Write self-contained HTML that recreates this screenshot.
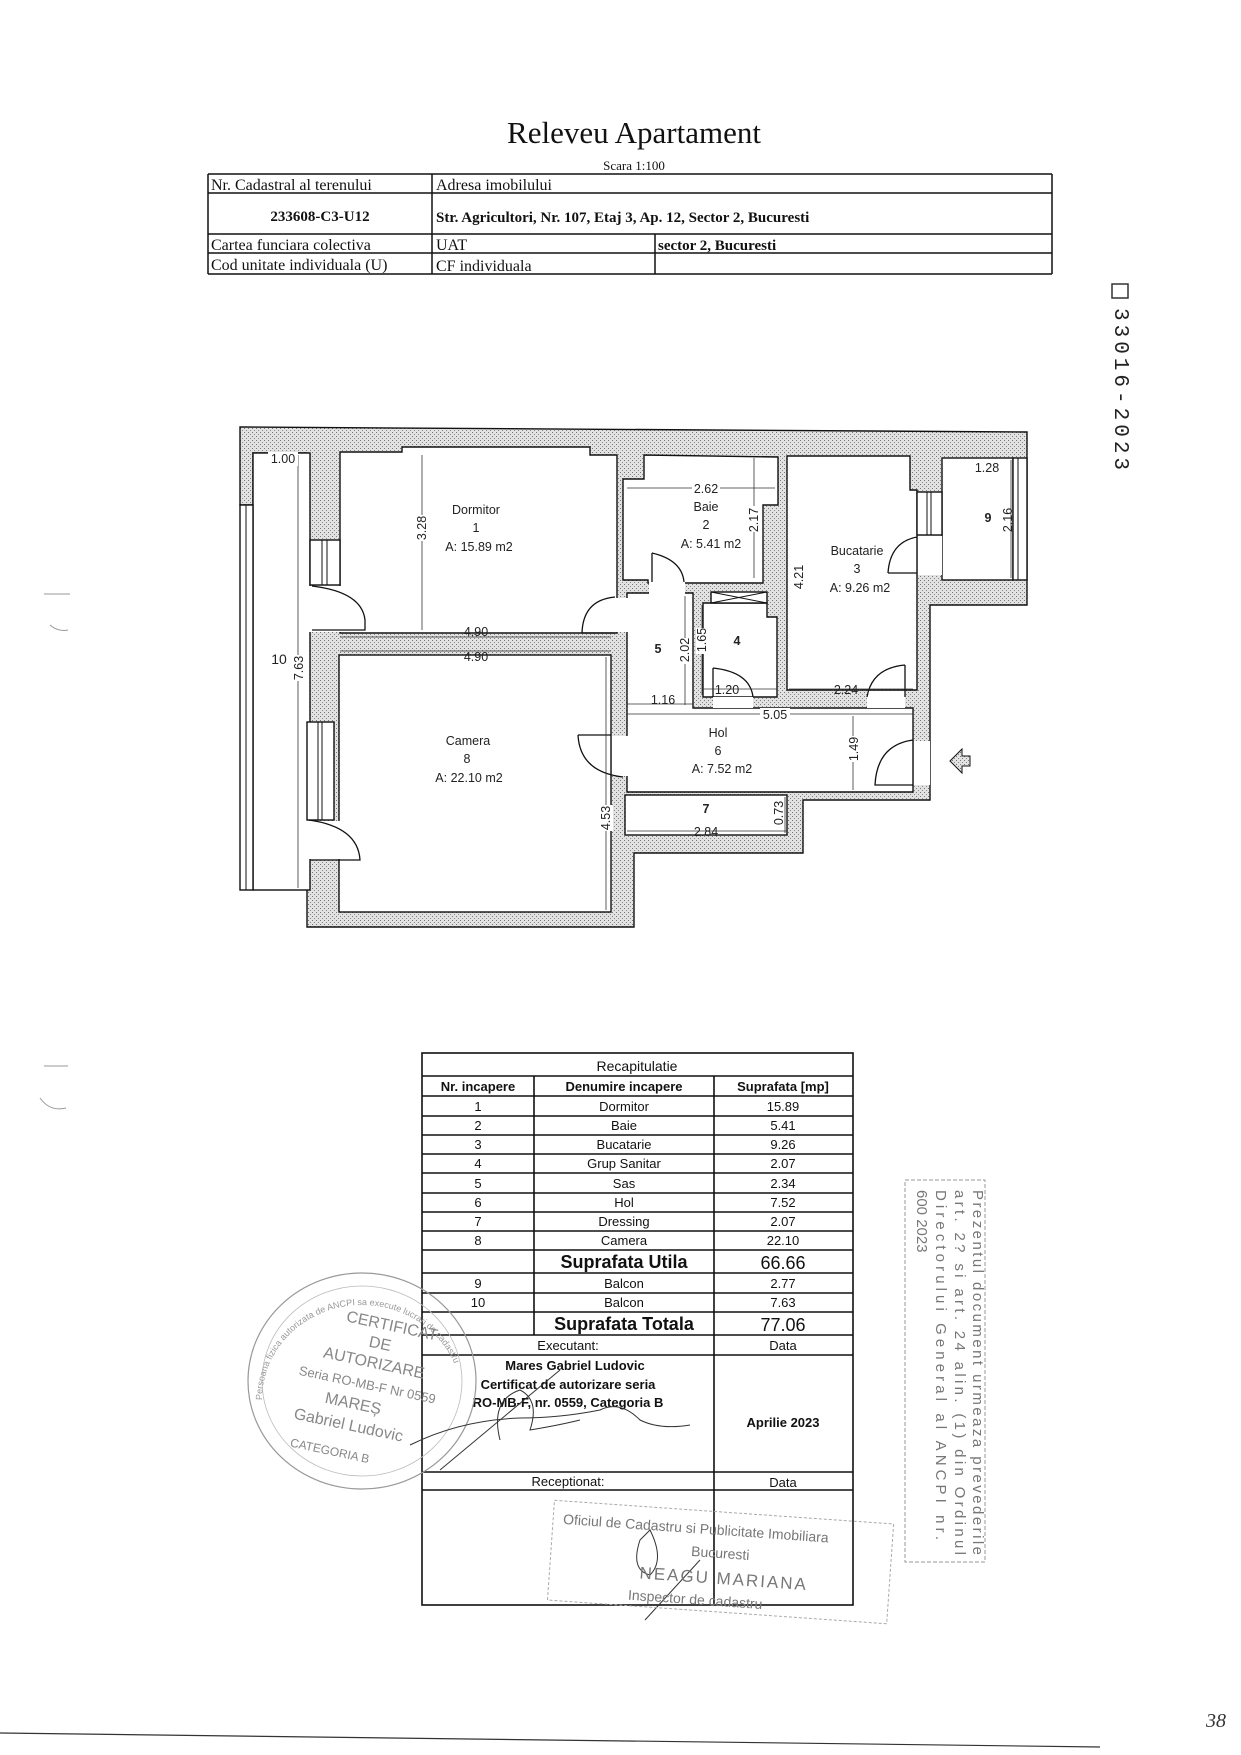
<!DOCTYPE html>
<html><head><meta charset="utf-8"><style>
html,body{margin:0;padding:0;background:#fff;}
svg{display:block;}
</style></head><body>
<svg width="1241" height="1755" viewBox="0 0 1241 1755" xmlns="http://www.w3.org/2000/svg">
<defs>
<pattern id="h" width="4" height="4" patternUnits="userSpaceOnUse">
<rect width="4" height="4" fill="#e2e2e2"/><rect x="0" y="0" width="1" height="1" fill="#777"/><rect x="2" y="2" width="1" height="1" fill="#888"/>
</pattern>
<path id="ring" d="M262,1400 A100,95 0 1 1 462,1400"/>
</defs>
<!-- Title -->
<text x="634" y="143" font-family="Liberation Serif, serif" font-size="31" text-anchor="middle" fill="#111">Releveu Apartament</text>
<text x="634" y="170" font-family="Liberation Serif, serif" font-size="13" text-anchor="middle" fill="#111">Scara 1:100</text>
<!-- Header table -->
<g stroke="#111" stroke-width="1.5" fill="none">
<line x1="208" y1="174" x2="1052" y2="174"/>
<line x1="208" y1="193" x2="1052" y2="193"/>
<line x1="208" y1="234" x2="1052" y2="234"/>
<line x1="208" y1="253" x2="1052" y2="253"/>
<line x1="208" y1="274" x2="1052" y2="274"/>
<line x1="208" y1="174" x2="208" y2="274"/>
<line x1="432" y1="174" x2="432" y2="274"/>
<line x1="1052" y1="174" x2="1052" y2="274"/>
<line x1="655" y1="234" x2="655" y2="274"/>
</g>
<g font-family="Liberation Serif, serif" font-size="16" fill="#111">
<text x="211" y="190">Nr. Cadastral al terenului</text>
<text x="436" y="190">Adresa imobilului</text>
<text x="320" y="221" text-anchor="middle" font-weight="bold" font-size="15">233608-C3-U12</text>
<text x="436" y="222" font-weight="bold" font-size="15">Str. Agricultori, Nr. 107, Etaj 3, Ap. 12, Sector 2, Bucuresti</text>
<text x="211" y="250">Cartea funciara colectiva</text>
<text x="436" y="250">UAT</text>
<text x="658" y="250" font-weight="bold" font-size="15">sector 2, Bucuresti</text>
<text x="211" y="270">Cod unitate individuala (U)</text>
<text x="436" y="271">CF individuala</text>
</g>
<!-- vertical registry number -->
<rect x="1112" y="284" width="16" height="14" fill="none" stroke="#333" stroke-width="1.5"/>
<text x="1115" y="308" font-family="Liberation Mono, monospace" font-size="21" fill="#222" transform="rotate(90 1115 308)" letter-spacing="4">33016-2023</text>

<!-- FLOOR PLAN -->
<g stroke="#111" stroke-width="1.4">
<polygon fill="url(#h)" points="240,427 1027,432 1027,605 930,605 930,800 803,800 803,853 634,853 634,927 307,927 307,453 253,453 253,505 240,505"/>
<rect x="253" y="453" width="57" height="437" fill="#fff"/>
<rect x="240" y="505" width="13" height="385" fill="#fff"/>
<line x1="246" y1="505" x2="246" y2="890" stroke-width="1"/>
<polygon fill="#fff" points="340,452 402,452 402,447 590,447 590,455 617,455 617,633 340,633"/>
<rect x="339" y="655" width="272" height="257" fill="#fff"/>
<polygon fill="#fff" points="627,593 693,593 693,708 913,708 913,792 627,792"/>
<polygon fill="#fff" points="623,479 644,479 644,455 778,457 778,505 763,505 763,583 648,583 648,580 623,580"/>
<polygon fill="#fff" points="703,603 767,603 767,617 777,617 777,697 703,697"/>
<polygon fill="#fff" points="787,456 910,456 910,490 917,490 917,690 787,690"/>
<rect x="942" y="458" width="71" height="122" fill="#fff"/>
<rect x="1013" y="458" width="14" height="122" fill="#fff"/>
<line x1="1018" y1="458" x2="1018" y2="580" stroke-width="1"/>
<rect x="625" y="795" width="162" height="40" fill="#fff"/>
<rect x="711" y="592" width="56" height="11" fill="#fff"/>
<path d="M711,592 L767,603 M711,603 L767,592" fill="none" stroke-width="1"/>
<rect x="310" y="540" width="30" height="45" fill="#fff"/>
<line x1="322" y1="540" x2="322" y2="585" stroke-width="1"/>
<line x1="327" y1="540" x2="327" y2="585" stroke-width="1"/>
<rect x="307" y="722" width="27" height="98" fill="#fff"/>
<line x1="318" y1="722" x2="318" y2="820" stroke-width="1"/>
<line x1="322" y1="722" x2="322" y2="820" stroke-width="1"/>
<rect x="917" y="492" width="25" height="43" fill="#fff"/>
<line x1="927" y1="492" x2="927" y2="535" stroke-width="1"/>
<line x1="931" y1="492" x2="931" y2="535" stroke-width="1"/>
</g>
<g fill="#fff">
<rect x="308" y="586" width="33" height="46"/>
<rect x="308" y="821" width="32" height="38"/>
<rect x="612" y="736" width="16" height="40"/>
<rect x="616" y="598" width="12" height="34"/>
<rect x="649" y="580" width="36" height="14"/>
<rect x="713" y="697" width="40" height="11"/>
<rect x="867" y="691" width="38" height="17"/>
<rect x="918" y="536" width="24" height="39"/>
<rect x="914" y="741" width="16" height="44"/>
</g>
<g fill="none" stroke="#111" stroke-width="1.3">
<path d="M312,586 Q362,592 365,620 L365,630 L312,630"/>
<path d="M309,820 Q358,827 360,860 L310,860"/>
<path d="M582,633 Q583,600 615,597 M582,633 L615,633"/>
<path d="M652,553 Q682,560 684,582 M652,553 L652,582"/>
<path d="M713,668 Q750,672 753,697 M713,668 L713,697"/>
<path d="M867,697 Q872,668 905,665 M905,665 L905,697"/>
<path d="M888,573 Q890,542 917,537 M888,573 L917,573"/>
<path d="M578,735 Q580,772 623,777 M578,735 L611,735"/>
<path d="M913,740 Q877,745 875,785 L913,785"/>
</g>
<g stroke="#333" stroke-width="0.8" fill="none">
<line x1="422" y1="455" x2="422" y2="630"/>
<line x1="298" y1="455" x2="298" y2="888"/>
<line x1="627" y1="488" x2="775" y2="488"/>
<line x1="754" y1="458" x2="754" y2="578"/>
<line x1="340" y1="637" x2="611" y2="637"/>
<line x1="340" y1="651" x2="611" y2="651"/>
<line x1="606" y1="657" x2="606" y2="910"/>
<line x1="685" y1="596" x2="685" y2="705"/>
<line x1="702" y1="605" x2="702" y2="695"/>
<line x1="703" y1="689" x2="777" y2="689"/>
<line x1="789" y1="689" x2="913" y2="689"/>
<line x1="627" y1="704" x2="693" y2="704"/>
<line x1="627" y1="714" x2="913" y2="714"/>
<line x1="853" y1="716" x2="853" y2="790"/>
<line x1="785" y1="797" x2="785" y2="833"/>
<line x1="627" y1="831" x2="787" y2="831"/>
<line x1="1011" y1="460" x2="1011" y2="578"/>
</g>
<g font-family="Liberation Sans, sans-serif" font-size="12.5" fill="#222" text-anchor="middle">
<rect x="268" y="452" width="30" height="14" fill="#fff"/>
<text x="283" y="463">1.00</text>
<text x="476" y="514">Dormitor</text>
<text x="476" y="532">1</text>
<text x="479" y="551">A: 15.89 m2</text>
<rect x="414" y="515" width="16" height="26" fill="#fff"/>
<text x="0" y="0" transform="translate(426,528) rotate(-90)">3.28</text>
<rect x="692" y="482" width="28" height="13" fill="#fff"/>
<text x="706" y="493">2.62</text>
<text x="706" y="511">Baie</text>
<text x="706" y="529">2</text>
<text x="711" y="548">A: 5.41 m2</text>
<rect x="747" y="506" width="14" height="26" fill="#fff"/>
<text x="0" y="0" transform="translate(758,520) rotate(-90)">2.17</text>
<text x="987" y="472">1.28</text>
<text x="988" y="522" font-weight="bold">9</text>
<text x="0" y="0" transform="translate(1012,520) rotate(-90)">2.16</text>
<text x="857" y="555">Bucatarie</text>
<text x="857" y="573">3</text>
<text x="860" y="592">A: 9.26 m2</text>
<text x="0" y="0" transform="translate(803,577) rotate(-90)">4.21</text>
<text x="476" y="636">4.90</text>
<text x="476" y="661">4.90</text>
<text x="279" y="664" font-size="14">10</text>
<rect x="292" y="655" width="14" height="26" fill="#fff"/>
<text x="0" y="0" transform="translate(303,668) rotate(-90)">7.63</text>
<text x="658" y="653" font-weight="bold">5</text>
<rect x="679" y="638" width="13" height="26" fill="#fff"/>
<text x="0" y="0" transform="translate(689,650) rotate(-90)">2.02</text>
<rect x="696" y="628" width="13" height="26" fill="#fff"/>
<text x="0" y="0" transform="translate(706,640) rotate(-90)">1.65</text>
<text x="737" y="645" font-weight="bold">4</text>
<text x="727" y="694">1.20</text>
<text x="846" y="694">2.24</text>
<text x="663" y="704">1.16</text>
<rect x="760" y="708" width="30" height="12" fill="#fff"/>
<text x="775" y="719">5.05</text>
<text x="718" y="737">Hol</text>
<text x="718" y="755">6</text>
<text x="722" y="773">A: 7.52 m2</text>
<rect x="846" y="736" width="14" height="26" fill="#fff"/>
<text x="0" y="0" transform="translate(858,749) rotate(-90)">1.49</text>
<text x="468" y="745">Camera</text>
<text x="467" y="763">8</text>
<text x="469" y="782">A: 22.10 m2</text>
<rect x="599" y="805" width="14" height="26" fill="#fff"/>
<text x="0" y="0" transform="translate(610,818) rotate(-90)">4.53</text>
<text x="706" y="813" font-weight="bold">7</text>
<text x="706" y="836">2.84</text>
<text x="0" y="0" transform="translate(783,813) rotate(-90)">0.73</text>
</g>
<polygon points="950,761 962,749 962,756 970,756 970,766 962,766 962,773" fill="url(#h)" stroke="#111" stroke-width="1"/>

<g stroke="#999" stroke-width="1" fill="none">
<line x1="44" y1="594" x2="70" y2="594"/>
<path d="M50,625 Q58,632 68,630"/>
<line x1="44" y1="1066" x2="68" y2="1066"/>
<path d="M40,1098 Q50,1112 66,1108"/>
</g>

<!-- Recapitulatie table -->
<g stroke="#111" stroke-width="1.6" fill="none">
<rect x="422" y="1053" width="431" height="552"/>
<line x1="422" y1="1076" x2="853" y2="1076"/>
<line x1="422" y1="1096" x2="853" y2="1096"/>
<line x1="422" y1="1116" x2="853" y2="1116"/>
<line x1="422" y1="1135" x2="853" y2="1135"/>
<line x1="422" y1="1154" x2="853" y2="1154"/>
<line x1="422" y1="1173" x2="853" y2="1173"/>
<line x1="422" y1="1193" x2="853" y2="1193"/>
<line x1="422" y1="1212" x2="853" y2="1212"/>
<line x1="422" y1="1231" x2="853" y2="1231"/>
<line x1="422" y1="1250" x2="853" y2="1250"/>
<line x1="422" y1="1273" x2="853" y2="1273"/>
<line x1="422" y1="1293" x2="853" y2="1293"/>
<line x1="422" y1="1312" x2="853" y2="1312"/>
<line x1="422" y1="1335" x2="853" y2="1335"/>
<line x1="422" y1="1355" x2="853" y2="1355"/>
<line x1="422" y1="1472" x2="853" y2="1472"/>
<line x1="422" y1="1490" x2="853" y2="1490"/>
<line x1="534" y1="1076" x2="534" y2="1335"/>
<line x1="714" y1="1076" x2="714" y2="1605"/>
</g>
<g font-family="Liberation Sans, sans-serif" font-size="13" fill="#111" text-anchor="middle">
<text x="637" y="1071" font-size="14">Recapitulatie</text>
<text x="478" y="1091" font-weight="bold">Nr. incapere</text>
<text x="624" y="1091" font-weight="bold">Denumire incapere</text>
<text x="783" y="1091" font-weight="bold">Suprafata [mp]</text>
<text x="478" y="1111">1</text><text x="624" y="1111">Dormitor</text><text x="783" y="1111">15.89</text>
<text x="478" y="1130">2</text><text x="624" y="1130">Baie</text><text x="783" y="1130">5.41</text>
<text x="478" y="1149">3</text><text x="624" y="1149">Bucatarie</text><text x="783" y="1149">9.26</text>
<text x="478" y="1168">4</text><text x="624" y="1168">Grup Sanitar</text><text x="783" y="1168">2.07</text>
<text x="478" y="1188">5</text><text x="624" y="1188">Sas</text><text x="783" y="1188">2.34</text>
<text x="478" y="1207">6</text><text x="624" y="1207">Hol</text><text x="783" y="1207">7.52</text>
<text x="478" y="1226">7</text><text x="624" y="1226">Dressing</text><text x="783" y="1226">2.07</text>
<text x="478" y="1245">8</text><text x="624" y="1245">Camera</text><text x="783" y="1245">22.10</text>
<text x="624" y="1268" font-size="18" font-weight="bold">Suprafata Utila</text><text x="783" y="1269" font-size="18">66.66</text>
<text x="478" y="1288">9</text><text x="624" y="1288">Balcon</text><text x="783" y="1288">2.77</text>
<text x="478" y="1307">10</text><text x="624" y="1307">Balcon</text><text x="783" y="1307">7.63</text>
<text x="624" y="1330" font-size="18" font-weight="bold">Suprafata Totala</text><text x="783" y="1331" font-size="18">77.06</text>
<text x="568" y="1350">Executant:</text><text x="783" y="1350">Data</text>
<text x="575" y="1370" font-weight="bold">Mares Gabriel Ludovic</text>
<text x="568" y="1389" font-weight="bold">Certificat de autorizare seria</text>
<text x="568" y="1407" font-weight="bold">RO-MB-F, nr. 0559, Categoria B</text>
<text x="783" y="1427" font-weight="bold">Aprilie 2023</text>
<text x="568" y="1486">Receptionat:</text><text x="783" y="1487">Data</text>
</g>

<!-- round stamp -->
<g fill="#888" stroke="none" font-family="Liberation Sans, sans-serif">
<ellipse cx="362" cy="1381" rx="114" ry="108" fill="none" stroke="#999" stroke-width="1.2"/>
<ellipse cx="362" cy="1381" rx="100" ry="95" fill="none" stroke="#bbb" stroke-width="0.8"/>
<text font-size="9" fill="#999"><textPath href="#ring">Persoana fizica autorizata de ANCPI sa execute lucrari de cadastru</textPath></text>
<g font-size="16" text-anchor="middle" transform="rotate(12 362 1381)">
<text x="380" y="1326">CERTIFICAT</text>
<text x="372" y="1346">DE</text>
<text x="370" y="1366">AUTORIZARE</text>
<text x="368" y="1388" font-size="13">Seria RO-MB-F Nr 0559</text>
<text x="358" y="1410">MAREȘ</text>
<text x="358" y="1432">Gabriel Ludovic</text>
<text x="345" y="1460" font-size="12">CATEGORIA B</text>
</g>
</g>
<g fill="none" stroke="#333" stroke-width="1">
<path d="M410,1445 Q460,1420 520,1418 Q560,1418 600,1410 Q620,1400 640,1420 Q660,1430 690,1425"/>
<path d="M500,1440 Q490,1400 520,1390 Q540,1400 530,1430 Q560,1425 580,1420"/>
<path d="M440,1470 L560,1370"/>
<path d="M640,1540 Q630,1570 650,1575 Q665,1560 650,1530 Z"/>
<path d="M645,1620 L700,1560"/>
</g>
<g transform="rotate(4 720 1570)" fill="#777" font-family="Liberation Sans, sans-serif" font-size="14">
<rect x="550" y="1512" width="340" height="100" fill="none" stroke="#aaa" stroke-width="1" stroke-dasharray="3,2"/>
<text x="560" y="1535">Oficiul de Cadastru si Publicitate Imobiliara</text>
<text x="690" y="1558">Bucuresti</text>
<text x="640" y="1584" font-size="17" letter-spacing="2">NEAGU MARIANA</text>
<text x="630" y="1606">Inspector de cadastru</text>
</g>

<!-- right stamp box -->
<rect x="905" y="1180" width="80" height="382" fill="none" stroke="#999" stroke-width="1" stroke-dasharray="4,2"/>
<g fill="#777" font-family="Liberation Sans, sans-serif" font-size="15">
<text transform="translate(973,1190) rotate(90)" textLength="365" lengthAdjust="spacing">Prezentul document urmeaza prevederile</text>
<text transform="translate(955,1190) rotate(90)" textLength="365" lengthAdjust="spacing">art. 2? si art. 24 alin. (1) din Ordinul</text>
<text transform="translate(936,1190) rotate(90)" textLength="350" lengthAdjust="spacing">Directorului General al ANCPI nr.</text>
<text transform="translate(917,1190) rotate(90)">600 2023</text>
</g>

<line x1="0" y1="1733" x2="1100" y2="1747" stroke="#333" stroke-width="1.2"/>
<text x="1216" y="1727" font-family="Liberation Serif, serif" font-style="italic" font-size="20" fill="#333" text-anchor="middle">38</text>
</svg>
</body></html>
